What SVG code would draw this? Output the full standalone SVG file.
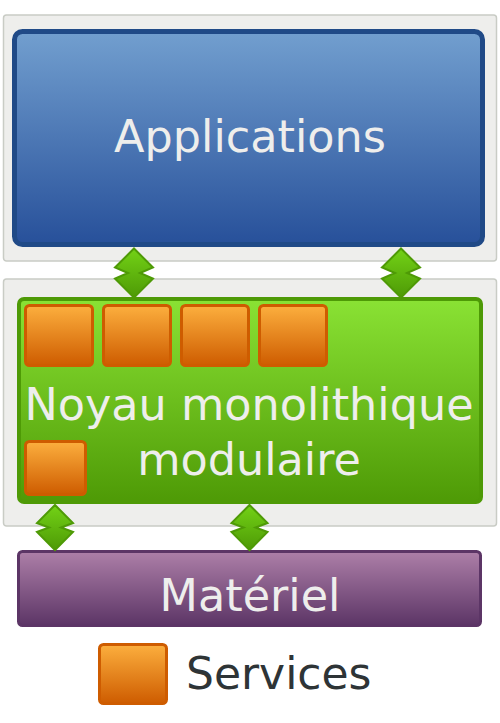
<svg xmlns="http://www.w3.org/2000/svg" width="500" height="723" viewBox="0 0 500 723">
  <defs>
    <linearGradient id="gBlue" x1="0" y1="0" x2="0" y2="1">
      <stop offset="0" stop-color="#729fcf"/>
      <stop offset="1" stop-color="#27509a"/>
    </linearGradient>
    <linearGradient id="gGreen" x1="0" y1="0" x2="0" y2="1">
      <stop offset="0" stop-color="#8ae234"/>
      <stop offset="1" stop-color="#4e9a06"/>
    </linearGradient>
    <linearGradient id="gOrange" x1="0" y1="0" x2="0" y2="1">
      <stop offset="0" stop-color="#fcaf3e"/>
      <stop offset="1" stop-color="#ce5c00"/>
    </linearGradient>
    <linearGradient id="gPurple" x1="0" y1="0" x2="0" y2="1">
      <stop offset="0" stop-color="#ad7fa8"/>
      <stop offset="1" stop-color="#5c3566"/>
    </linearGradient>
    <linearGradient id="gArrow" x1="0" y1="0" x2="0" y2="1">
      <stop offset="0" stop-color="#73d216"/>
      <stop offset="1" stop-color="#4e9a06"/>
    </linearGradient>
    <style>
      .panel { fill: #eeeeec; stroke: #c9ccc5; stroke-width: 1.5; }
      .service { fill: url(#gOrange); stroke: #ce5c00; stroke-width: 3; }
      .lbl { font-family: "DejaVu Sans", "Liberation Sans", sans-serif; font-size: 44.5px; fill: #eeeeec; text-anchor: middle; }
      .arrow { fill: url(#gArrow); stroke: #4e9a06; stroke-width: 2; stroke-linejoin: miter; }
    </style>
  </defs>

  <g id="panel-top">
    <rect class="panel" x="3.5" y="15" width="493" height="246" rx="3"/>
  </g>
  <g id="panel-bottom">
    <rect class="panel" x="3.5" y="279" width="493" height="247" rx="3"/>
  </g>

  <g id="applications">
    <rect x="14.5" y="31.5" width="468" height="213" rx="8" fill="url(#gBlue)" stroke="#204a87" stroke-width="5"/>
    <text class="lbl" x="250" y="152">Applications</text>
  </g>

  <g id="noyau">
    <rect x="19" y="299" width="462" height="203" rx="5" fill="url(#gGreen)" stroke="#4e9a06" stroke-width="4"/>
    <text class="lbl" x="249" y="420">Noyau monolithique</text>
    <text class="lbl" x="249" y="475">modulaire</text>
  </g>

  <g id="services">
    <rect class="service" x="25.5" y="305.5" width="67" height="60" rx="4"/>
    <rect class="service" x="103.5" y="305.5" width="67" height="60" rx="4"/>
    <rect class="service" x="181.5" y="305.5" width="67" height="60" rx="4"/>
    <rect class="service" x="259.5" y="305.5" width="67" height="60" rx="4"/>
    <rect class="service" x="25.5" y="441.5" width="60" height="53" rx="4"/>
  </g>

  <g id="materiel">
    <rect x="18.5" y="551.5" width="462" height="74" rx="4" fill="url(#gPurple)" stroke="#5c3566" stroke-width="3"/>
    <text class="lbl" x="250" y="611">Matériel</text>
  </g>

  <g id="connectors">
    <path class="arrow" transform="translate(134,248.5)" d="M0,0 L19,19 L6,24.5 L19,30 L0,49 L-19,30 L-6,24.5 L-19,19 Z"/>
    <path class="arrow" transform="translate(401,248.5)" d="M0,0 L19,19 L6,24.5 L19,30 L0,49 L-19,30 L-6,24.5 L-19,19 Z"/>
    <path class="arrow" transform="translate(55,505)" d="M0,0 L18,18 L6,22.5 L18,27 L0,45 L-18,27 L-6,22.5 L-18,18 Z"/>
    <path class="arrow" transform="translate(249.5,505)" d="M0,0 L18,18 L6,22.5 L18,27 L0,45 L-18,27 L-6,22.5 L-18,18 Z"/>
  </g>

  <g id="legend">
    <rect class="service" x="99.5" y="644.5" width="67" height="59" rx="4"/>
    <text x="186" y="689" font-family="DejaVu Sans, Liberation Sans, sans-serif" font-size="44" fill="#2e3436">Services</text>
  </g>
</svg>
